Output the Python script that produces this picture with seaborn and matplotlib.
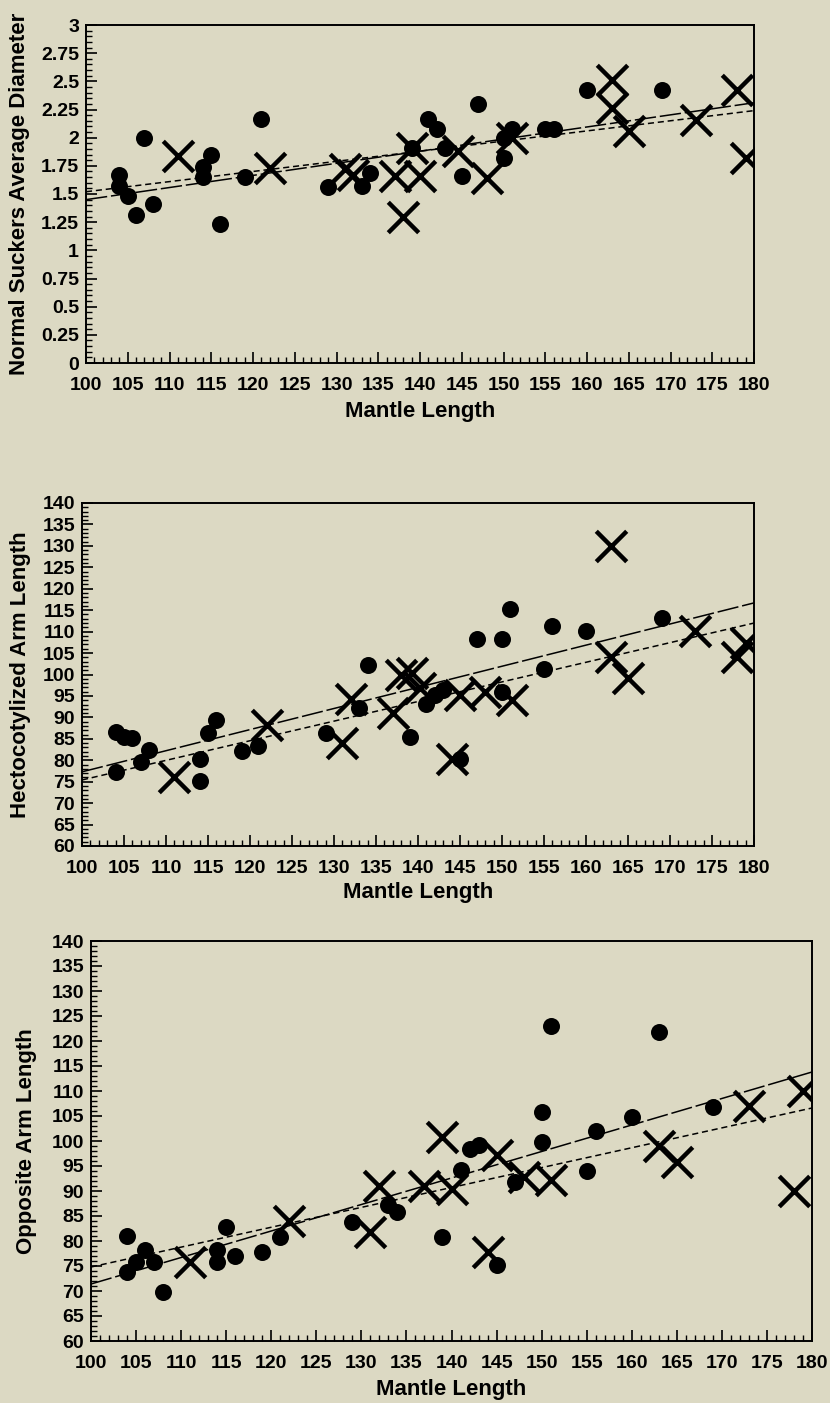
import matplotlib
matplotlib.use("Agg")
import matplotlib.pyplot as plt
import seaborn as sns
from matplotlib.ticker import MultipleLocator

# --- data ---
# shared x values (mantle length) for the filled circles
circle_x = [104, 104, 105, 106, 107, 108, 114, 114, 115, 116, 119, 121, 129, 133,
            134, 139, 141, 142, 143, 145, 147, 150, 150, 151, 155, 156, 160, 169]

# panel 1: normal suckers average diameter
suck_circle_y = [1.67, 1.57, 1.48, 1.31, 2.00, 1.41, 1.74, 1.65, 1.85, 1.23, 1.65, 2.17, 1.56, 1.57,
                 1.69, 1.91, 2.17, 2.08, 1.91, 1.66, 2.30, 1.82, 2.00, 2.08, 2.08, 2.08, 2.42, 2.42]
suck_cross_x = [111, 122, 131, 132, 137, 138, 139, 140, 144.5, 148, 151, 163, 163, 165, 173, 178, 179]
suck_cross_y = [1.84, 1.73, 1.72, 1.67, 1.66, 1.30, 1.91, 1.66, 1.88, 1.64, 2.00, 2.51, 2.26, 2.06,
                2.16, 2.42, 1.82]

# panel 2: hectocotylized arm length
hect_circle_y = [86.6, 77.3, 85.4, 85.2, 79.6, 82.4, 80.3, 75.2, 86.4, 89.4, 82.2, 83.4, 86.4, 92.2,
                 102.2, 85.4, 93.1, 95.2, 96.4, 80.3, 108.3, 108.3, 96.0, 115.3, 101.3, 111.3, 110.2, 113.2]
hect_cross_x = [111, 122, 131, 132, 137, 138, 139.3, 140.2, 144, 145, 148, 151.2, 163, 163, 165, 173,
                178, 179]
hect_cross_y = [76.1, 88.2, 84.1, 94.3, 91.0, 99.9, 100.4, 96.9, 80.3, 95.2, 96.0, 94.1, 130.0, 104.0,
                99.2, 110.2, 104.0, 107.3]

# panel 3: opposite arm length
opp_circle_x = [104, 104, 105, 106, 107, 108, 114, 114, 115, 116, 119, 121, 129, 133, 134,
                139, 141, 142, 143, 145, 147, 150, 150, 151, 155, 156, 160, 163, 169]
opp_circle_y = [81.0, 73.8, 75.8, 78.2, 75.8, 69.8, 78.2, 75.8, 82.8, 77.0, 77.8, 80.8, 83.8, 87.2,
                85.8, 80.8, 94.2, 98.5, 99.2, 75.2, 91.8, 105.8, 99.8, 123.0, 94.0, 102.0, 104.8,
                121.8, 106.8]
opp_cross_x = [111, 122, 131, 132, 137, 139, 140, 144, 145, 148, 151, 163, 165, 173, 178, 179]
opp_cross_y = [75.8, 84.0, 81.8, 91.0, 91.0, 100.8, 90.5, 77.8, 97.2, 92.8, 92.2, 99.0, 95.8, 107.0,
               90.0, 110.0]

# fitted lines (end points at x = 100 and 180)
fit_x = [100, 180]
suck_fit_long = [1.45, 2.31]
suck_fit_short = [1.52, 2.24]
hect_fit_long = [77.3, 116.7]
hect_fit_short = [75.4, 112.0]
opp_fit_long = [71.4, 113.8]
opp_fit_short = [74.8, 106.6]

# --- style ---
bg = "#dcd9c3"
sns.set_style("ticks")
plt.rcParams["font.family"] = ["Liberation Sans", "DejaVu Sans"]
plt.rcParams["font.weight"] = "bold"
plt.rcParams["text.color"] = "black"
plt.rcParams["axes.labelcolor"] = "black"
plt.rcParams["xtick.color"] = "black"
plt.rcParams["ytick.color"] = "black"

W, H = 830, 1403
fig = plt.figure(figsize=(W / 100, H / 100), dpi=100, facecolor=bg)


def make_axes(left, right, top, bottom):
    return fig.add_axes([left / W, 1 - bottom / H, (right - left) / W, (bottom - top) / H])


def draw_panel(ax, cx, cy, xx, xy, fit_long, fit_short, ylim, ymajor, yminor, ylabel,
               ylab_px, xlab_px, ax_px):
    ax.set_facecolor(bg)
    sns.lineplot(x=fit_x, y=fit_long, ax=ax, color="black", lw=1.1, linestyle=(0, (14, 2.5)))
    sns.lineplot(x=fit_x, y=fit_short, ax=ax, color="black", lw=1.1, linestyle=(0, (4, 2.5)))
    sns.scatterplot(x=cx, y=cy, ax=ax, marker="o", s=150, color="black", linewidth=0, zorder=3)
    sns.scatterplot(x=xx, y=xy, ax=ax, marker="x", s=480, color="black", linewidth=3.2, zorder=3)
    ax.set_xlim(100, 180)
    ax.set_ylim(*ylim)
    ax.xaxis.set_major_locator(MultipleLocator(5))
    ax.xaxis.set_minor_locator(MultipleLocator(1))
    ax.yaxis.set_major_locator(MultipleLocator(ymajor))
    ax.yaxis.set_minor_locator(MultipleLocator(yminor))
    ax.tick_params(which="both", direction="in", top=False, right=False, colors="black",
                   labelsize=14)
    ax.tick_params(axis="y", pad=5)
    ax.tick_params(axis="x", pad=10)
    ax.tick_params(which="major", length=8, width=1.2)
    ax.tick_params(which="minor", length=4, width=1)
    for lab in ax.get_xticklabels() + ax.get_yticklabels():
        lab.set_fontweight("bold")
    if ymajor == 0.25:
        ax.set_yticks(ax.get_yticks())
        ax.set_yticklabels([f"{v:g}" for v in ax.get_yticks()], fontweight="bold")
    for s in ax.spines.values():
        s.set_color("black")
        s.set_linewidth(1.4)
    ax.set_xlabel("Mantle Length", fontsize=16, fontweight="bold", color="black")
    ax.set_ylabel(ylabel, fontsize=16, fontweight="bold", color="black")
    left, right, top, bottom = ax_px
    ax.yaxis.set_label_coords((ylab_px - left) / (right - left), 0.5)
    ax.xaxis.set_label_coords(0.5, -xlab_px / (bottom - top))
    ax.set_ylim(*ylim)


p1 = (86, 754, 25, 363)
p2 = (82, 754, 503, 846)
p3 = (91, 812, 941, 1341)

ax1 = make_axes(*p1)
draw_panel(ax1, circle_x, suck_circle_y, suck_cross_x, suck_cross_y, suck_fit_long, suck_fit_short,
           (0, 3), 0.25, 0.05, "Normal Suckers Average Diameter", 30, 38, p1)

ax2 = make_axes(*p2)
draw_panel(ax2, circle_x, hect_circle_y, hect_cross_x, hect_cross_y, hect_fit_long, hect_fit_short,
           (60, 140), 5, 1, "Hectocotylized Arm Length", 31, 36, p2)

ax3 = make_axes(*p3)
draw_panel(ax3, opp_circle_x, opp_circle_y, opp_cross_x, opp_cross_y, opp_fit_long, opp_fit_short,
           (60, 140), 5, 1, "Opposite Arm Length", 37, 38, p3)

fig.savefig("out.png", dpi=100, facecolor=bg)
